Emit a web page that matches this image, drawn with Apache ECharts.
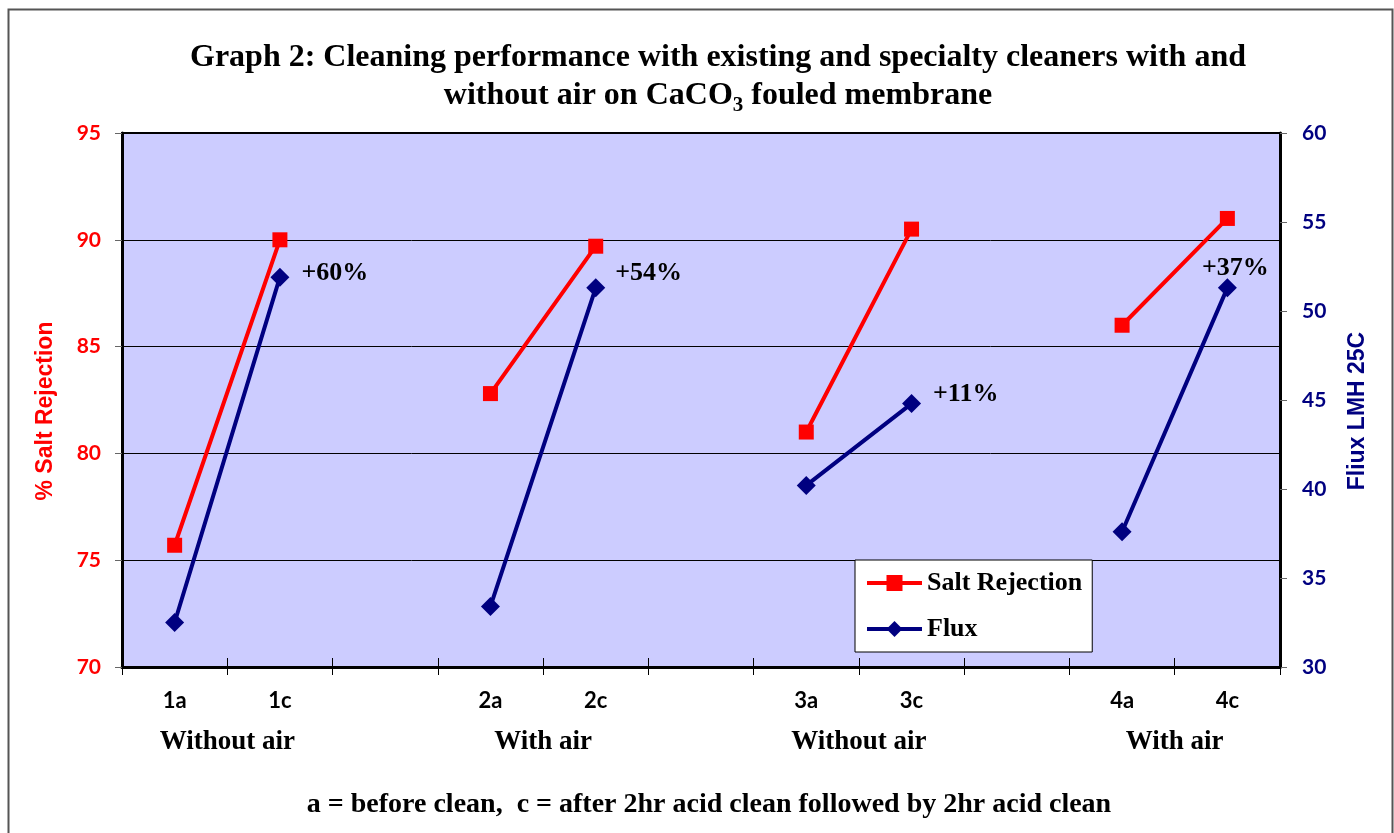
<!DOCTYPE html>
<html>
<head>
<meta charset="utf-8">
<script src="https://cdn.jsdelivr.net/npm/echarts@6/dist/echarts.min.js"></script>
<style>
html,body{margin:0;padding:0;background:#fff;}
#chart{width:1394px;height:833px;}
</style>
</head>
<body>
<div id="chart"></div>
<script>
// ---- data ----
var categories = ['1a', '1c', '', '2a', '2c', '', '3a', '3c', '', '4a', '4c'];
var saltRejection = [75.7, 90.0, null, 82.8, 89.7, null, 81.0, 90.5, null, 86.0, 91.0];
var flux = [32.5, 51.9, null, 33.4, 51.3, null, 40.2, 44.8, null, 37.6, 51.3];
var fluxChange = ['', '+60%', '', '', '+54%', '', '', '+11%', '', '', '+37%'];
var groupLabels = ['Without air', 'With air', 'Without air', 'With air'];
var leftTicks = [70, 75, 80, 85, 90, 95];
var rightTicks = [30, 35, 40, 45, 50, 55, 60];
var titleLine1 = 'Graph 2: Cleaning performance with existing and specialty cleaners with and';
var titleLine2a = 'without air on CaCO';
var titleLine2sub = '3';
var titleLine2b = ' fouled membrane';
var footnote = 'a = before clean,  c = after 2hr acid clean followed by 2hr acid clean';

// ---- helpers ----
var SERIF = '"Liberation Serif", "Times New Roman", serif';
var SANS = 'Lato, "Liberation Sans", sans-serif';
var ARIAL = '"Liberation Sans", Arial, sans-serif';

// group label axis: 12 boundary slots, labels at the boundary between each pair
var groupAxis = [];
for (var i = 0; i <= categories.length; i++) groupAxis.push('');
groupLabels.forEach(function (g, k) { groupAxis[1 + 3 * k] = g; });

// annotation placement (styling only)
var annotLayout = {
  1: { position: 'right', distance: 12, offset: [0, -4] },
  4: { position: 'right', distance: 10, offset: [0, -15] },
  7: { position: 'right', distance: 12, offset: [0, -9] },
  10: { position: 'top', distance: 4, offset: [8, 7] }
};
var fluxData = flux.map(function (v, i) {
  var d = { value: v };
  if (fluxChange[i]) {
    var l = annotLayout[i] || { position: 'right' };
    d.label = {
      show: true, formatter: fluxChange[i], position: l.position, distance: l.distance,
      offset: l.offset, color: '#000', fontFamily: SERIF, fontWeight: 'bold', fontSize: 26
    };
  }
  return d;
});

var chart = echarts.init(document.getElementById('chart'), null, { renderer: 'canvas' });
var option = {
  animation: false,
  backgroundColor: '#fff',
  title: {
    text: '{m|' + titleLine1 + '}\n{m|' + titleLine2a + '}{s|' + titleLine2sub + '}{m|' + titleLine2b + '}',
    left: 713,
    textAlign: 'center',
    top: 34,
    textStyle: {
      rich: {
        m: { fontFamily: SERIF, fontWeight: 'bold', fontSize: 32, lineHeight: 38, color: '#000' },
        s: { fontFamily: SERIF, fontWeight: 'bold', fontSize: 21, lineHeight: 38, color: '#000', padding: [20, 0, 0, 0] }
      }
    }
  },
  legend: {
    orient: 'vertical',
    left: 855,
    top: 560,
    width: 238,
    padding: [10, 10, 10, 10],
    itemGap: 20,
    itemWidth: 55,
    itemHeight: 20,
    backgroundColor: '#fff',
    borderColor: '#000',
    borderWidth: 1,
    borderRadius: 0,
    lineStyle: { width: 4 },
    textStyle: { fontFamily: SERIF, fontWeight: 'bold', fontSize: 26, color: '#000' },
    data: ['Salt Rejection', 'Flux']
  },
  grid: {
    left: 122, right: 114, top: 133, bottom: 166,
    show: true, backgroundColor: '#CCCCFF', borderColor: '#000', borderWidth: 2
  },
  xAxis: [
    {
      type: 'category', data: categories, boundaryGap: true, position: 'bottom',
      axisLine: { lineStyle: { color: '#000', width: 3 } },
      axisTick: { show: true, length: 8, lineStyle: { color: '#000', width: 1 } },
      axisLabel: { interval: 0, margin: 23, fontFamily: SANS, fontWeight: 'bold', fontSize: 22, color: '#000' },
      splitLine: { show: false }
    },
    {
      type: 'category', data: groupAxis, boundaryGap: false, position: 'bottom',
      axisLine: { show: false }, axisTick: { show: false },
      axisLabel: { interval: 0, margin: 62, fontFamily: SERIF, fontWeight: 'bold', fontSize: 27, color: '#000' },
      splitLine: { show: false }
    },
    {
      type: 'category', data: categories, boundaryGap: true, position: 'bottom',
      axisLine: { show: false },
      axisTick: { show: true, inside: true, length: 9, lineStyle: { color: '#000', width: 1 } },
      axisLabel: { show: false },
      splitLine: { show: false }
    }
  ],
  yAxis: [
    {
      type: 'value', min: leftTicks[0], max: leftTicks[leftTicks.length - 1], interval: 5, position: 'left',
      name: '% Salt Rejection', nameLocation: 'middle', nameGap: 65,
      nameTextStyle: { fontFamily: ARIAL, fontWeight: 'bold', fontSize: 23, color: '#FF0000', padding: [0, 22, 0, 0] },
      axisLine: { show: true, lineStyle: { color: '#000', width: 3 } },
      axisTick: { show: true, length: 7, lineStyle: { color: '#666', width: 1 } },
      axisLabel: { margin: 21, fontFamily: SANS, fontWeight: 'bold', fontSize: 21, color: '#FF0000' },
      splitLine: { show: true, lineStyle: { color: '#000', width: 1 } }
    },
    {
      type: 'value', min: rightTicks[0], max: rightTicks[rightTicks.length - 1], interval: 5, position: 'right',
      name: 'Fliux LMH 25C', nameLocation: 'middle', nameGap: 66,
      nameTextStyle: { fontFamily: ARIAL, fontWeight: 'bold', fontSize: 23, color: '#000080', padding: [0, 22, 0, 0] },
      axisLine: { show: true, lineStyle: { color: '#000', width: 3 } },
      axisTick: { show: true, length: 7, lineStyle: { color: '#666', width: 1 } },
      axisLabel: { margin: 22, fontFamily: SANS, fontWeight: 'bold', fontSize: 21, color: '#000080' },
      splitLine: { show: false }
    }
  ],
  series: [
    {
      name: 'Salt Rejection', type: 'line', xAxisIndex: 0, yAxisIndex: 0,
      data: saltRejection, connectNulls: false,
      symbol: 'rect', symbolSize: 15,
      lineStyle: { color: '#FF0000', width: 4 },
      itemStyle: { color: '#FF0000' }
    },
    {
      name: 'Flux', type: 'line', xAxisIndex: 0, yAxisIndex: 1,
      data: fluxData, connectNulls: false,
      symbol: 'diamond', symbolSize: 19,
      lineStyle: { color: '#000080', width: 4 },
      itemStyle: { color: '#000080' }
    }
  ],
  graphic: [
    {
      type: 'rect', left: 6, top: 7, z: -10, silent: true,
      shape: { width: 1384, height: 840 },
      style: { fill: 'none', stroke: '#555', lineWidth: 2 }
    },
    {
      type: 'text', x: 709, y: 805, silent: true,
      style: { text: footnote, fontFamily: SERIF, fontWeight: 'bold', fontSize: 28, fill: '#000', align: 'center', verticalAlign: 'middle' }
    }
  ]
};
chart.setOption(option);
</script>
</body>
</html>
